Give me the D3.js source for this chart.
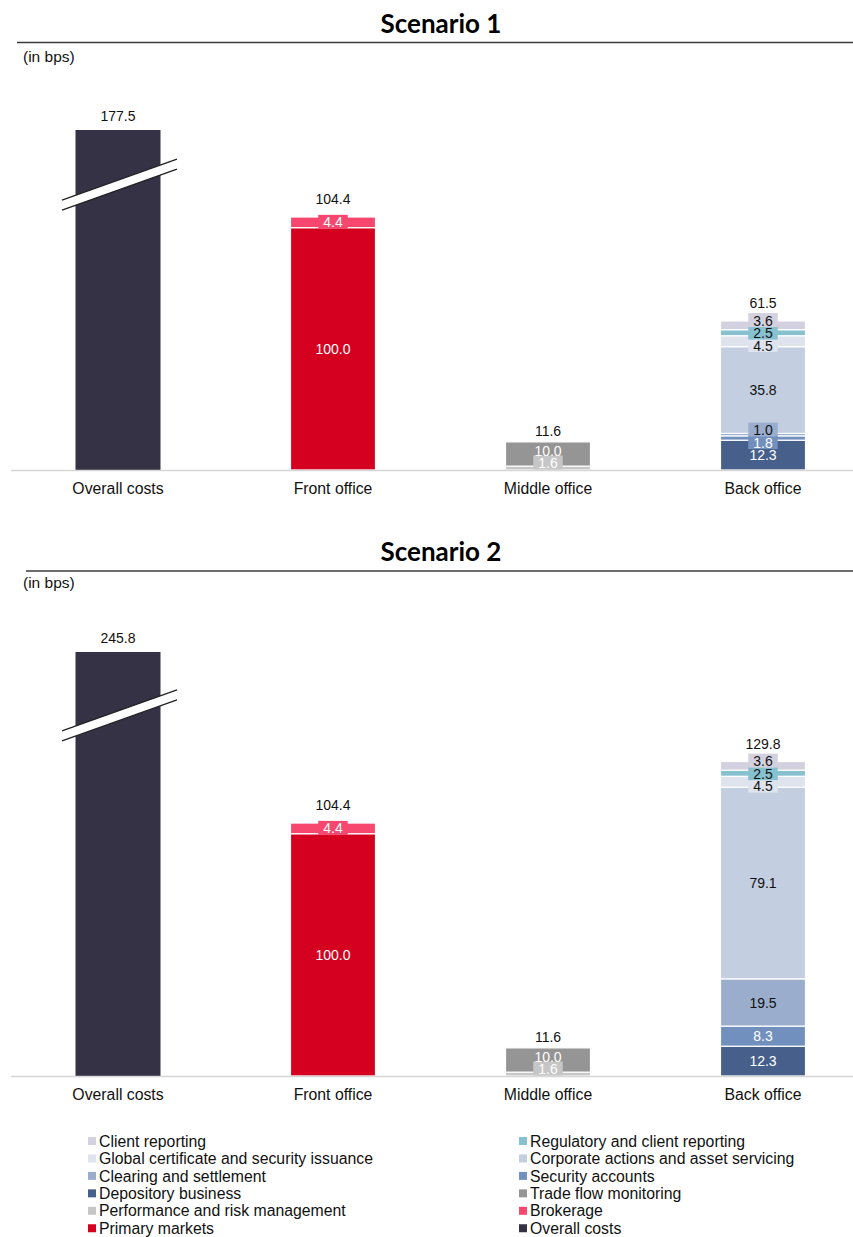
<!DOCTYPE html>
<html>
<head>
<meta charset="utf-8">
<script src="https://cdn.jsdelivr.net/npm/d3@7"></script>
<style>
  html, body { margin: 0; padding: 0; background: #fff; }
  svg { display: block; font-family: "Liberation Sans", Arial, sans-serif; }
</style>
</head>
<body>
<svg id="chart" width="853" height="1237"></svg>
<script>
// ---- data (bps) ----
const scenarios = ["Scenario 1", "Scenario 2"];
const categories = ["Overall costs", "Front office", "Middle office", "Back office"];

// one value per scenario
const overallCosts        = [177.5, 245.8];
const primaryMarkets      = [100.0, 100.0];
const brokerage           = [4.4, 4.4];
const performanceRisk     = [1.6, 1.6];
const tradeFlow           = [10.0, 10.0];
const depository          = [12.3, 12.3];
const securityAccounts    = [1.8, 8.3];
const clearingSettlement  = [1.0, 19.5];
const corporateActions    = [35.8, 79.1];
const globalCertificate   = [4.5, 4.5];
const regulatoryReporting = [2.5, 2.5];
const clientReporting     = [3.6, 3.6];

// series in stacking order (bottom to top), with the column each belongs to
const series = [
  { name: "Overall costs", cat: "Overall costs", values: overallCosts, color: "#353246", text: "#fff" },
  { name: "Primary markets", cat: "Front office", values: primaryMarkets, color: "#d5001f", text: "#fff" },
  { name: "Brokerage", cat: "Front office", values: brokerage, color: "#f7476f", text: "#fff" },
  { name: "Performance and risk management", cat: "Middle office", values: performanceRisk, color: "#c6c6c6", text: "#fff" },
  { name: "Trade flow monitoring", cat: "Middle office", values: tradeFlow, color: "#959595", text: "#fff" },
  { name: "Depository business", cat: "Back office", values: depository, color: "#475f8b", text: "#fff" },
  { name: "Security accounts", cat: "Back office", values: securityAccounts, color: "#7290bd", text: "#fff" },
  { name: "Clearing and settlement", cat: "Back office", values: clearingSettlement, color: "#9aadcd", text: "#111" },
  { name: "Corporate actions and asset servicing", cat: "Back office", values: corporateActions, color: "#c4cee1", text: "#111" },
  { name: "Global certificate and security issuance", cat: "Back office", values: globalCertificate, color: "#dee3ee", text: "#111" },
  { name: "Regulatory and client reporting", cat: "Back office", values: regulatoryReporting, color: "#87c1cf", text: "#111" },
  { name: "Client reporting", cat: "Back office", values: clientReporting, color: "#d3d1df", text: "#111" }
];

// legend layout: two columns
const legendLeft = ["Client reporting", "Global certificate and security issuance", "Clearing and settlement",
  "Depository business", "Performance and risk management", "Primary markets"];
const legendRight = ["Regulatory and client reporting", "Corporate actions and asset servicing", "Security accounts",
  "Trade flow monitoring", "Brokerage", "Overall costs"];

// ---- layout per panel ----
const panels = [
  { titleY: 33, ruleY: 42.5, ruleX: 17, unitY: 62, base: 470, top: 130, axisMax: 140.3, breakAt: 117.8 },
  { titleY: 561, ruleY: 571, ruleX: 26, unitY: 588, base: 1076, top: 652, axisMax: 175.0, breakAt: 148.8 }
];

const svg = d3.select("#chart");
const x = d3.scaleBand().domain(categories).range([10.5, 870.5])
  .paddingInner(130 / 215).paddingOuter(65 / 215);
const fmt = d3.format(".1f");
const byName = new Map(series.map(s => [s.name, s]));

panels.forEach((p, si) => {
  const g = svg.append("g");

  // title and rule
  g.append("text").attr("x", 441).attr("y", p.titleY).attr("text-anchor", "middle")
    .style("font-family", "Lato, 'Open Sans', sans-serif").style("font-weight", 700)
    .style("font-size", "26px").attr("fill", "#000").text(scenarios[si]);
  g.append("line").attr("x1", p.ruleX).attr("x2", 853).attr("y1", p.ruleY).attr("y2", p.ruleY)
    .attr("stroke", "#3a3a3a").attr("stroke-width", 1.6);
  g.append("text").attr("x", 23).attr("y", p.unitY).style("font-size", "15.5px").attr("fill", "#111")
    .text("(in bps)");

  const y = d3.scaleLinear().domain([0, p.axisMax]).range([p.base, p.top]);

  // stacked table: one row per category
  const rows = categories.map(c => {
    const r = { cat: c };
    series.forEach(s => { r[s.name] = s.cat === c ? s.values[si] : 0; });
    return r;
  });
  const stacked = d3.stack().keys(series.map(s => s.name))(rows);

  // overall costs bar uses a broken scale above the break point
  const total = overallCosts[si];
  const yBroken = d3.scaleLinear().domain([0, p.breakAt, total])
    .range([y(0), y(p.breakAt), y(p.axisMax)]);

  const segs = [];
  stacked.forEach((layer, li) => {
    const s = series[li];
    layer.forEach((d, ci) => {
      if (d[1] - d[0] <= 0) return;
      const isOverall = s.cat === "Overall costs";
      const sc = isOverall ? yBroken : y;
      segs.push({ s, cat: categories[ci], y0: sc(d[0]), y1: sc(d[1]), v: d[1] - d[0], isOverall });
    });
  });

  const barW = x.bandwidth();
  g.selectAll("rect.seg").data(segs).join("rect").attr("class", "seg")
    .attr("x", d => x(d.cat)).attr("width", barW)
    .attr("y", d => d.y1).attr("height", d => d.y0 - d.y1)
    .attr("fill", d => d.s.color)
    .attr("stroke", "#fff").attr("stroke-width", d => d.isOverall ? 0 : 1.2);

  // axis baseline and category labels
  const axis = d3.axisBottom(x).tickSize(0).tickSizeOuter(0).tickPadding(13);
  const ax = g.append("g").attr("transform", `translate(0,${p.base})`).call(axis);
  ax.select(".domain").attr("stroke", "#d6d6d6").attr("stroke-width", 1.3);
  ax.selectAll(".tick text").style("font-size", "15.8px").style("font-family", "'Liberation Sans', Arial, sans-serif")
    .attr("fill", "#111");

  // break symbol on the overall costs bar
  const cx = x("Overall costs") + barW / 2 + 1.5;
  const yc = y(p.breakAt);
  const half = 57.5, rise = 20.5, gap = 5;
  const band = [
    [cx - half, yc + rise - gap], [cx + half, yc - rise - gap],
    [cx + half, yc - rise + gap], [cx - half, yc + rise + gap]
  ];
  g.append("path").attr("d", d3.line()(band) + "Z").attr("fill", "#fff");
  [-gap, gap].forEach(o => {
    g.append("line").attr("x1", cx - half).attr("y1", yc + rise + o)
      .attr("x2", cx + half).attr("y2", yc - rise + o)
      .attr("stroke", "#222").attr("stroke-width", 1.3);
  });

  // totals above each column
  categories.forEach(c => {
    const colSegs = segs.filter(d => d.cat === c);
    const topY = d3.min(colSegs, d => d.y1);
    const sum = c === "Overall costs" ? total : d3.sum(colSegs, d => d.v);
    const lift = c === "Overall costs" ? 9 : (c === "Middle office" ? 6 : 13);
    g.append("text").attr("x", x(c) + barW / 2).attr("y", topY - lift)
      .attr("text-anchor", "middle").style("font-size", "14px").attr("fill", "#111")
      .text(fmt(sum));
  });

  // segment labels, spread apart when segments are thin
  const minGap = 12.5, boxH = 14;
  categories.filter(c => c !== "Overall costs").forEach(c => {
    const labs = segs.filter(d => d.cat === c)
      .map(d => ({ ...d, ly: (d.y0 + d.y1) / 2 }));
    for (let it = 0; it < 60; it++) {
      for (let i = 0; i < labs.length - 1; i++) {
        const lo = labs[i], hi = labs[i + 1];
        const dgap = lo.ly - hi.ly;
        if (dgap < minGap) {
          const push = (minGap - dgap) / 2;
          lo.ly += push; hi.ly -= push;
        }
      }
      labs.forEach(l => { l.ly = Math.min(l.ly, p.base - boxH / 2); });
    }
    const lg = g.append("g");
    labs.forEach(l => {
      const h = l.y0 - l.y1;
      const t = lg.append("text").attr("x", x(c) + barW / 2).attr("y", l.ly)
        .attr("dy", "0.36em").attr("text-anchor", "middle")
        .style("font-size", "14px").attr("fill", l.s.text).text(fmt(l.v));
      if (h < 12) {
        const w = t.node().getComputedTextLength() + 10;
        lg.insert("rect", "text").attr("x", x(c) + barW / 2 - w / 2).attr("y", l.ly - boxH / 2 - 0.5)
          .attr("width", w).attr("height", boxH).attr("fill", l.s.color);
      }
    });
  });
});

// legend
const legendRows = 17.45, legendY0 = 1141;
[[legendLeft, 88], [legendRight, 519]].forEach(([names, lx]) => {
  const lg = svg.append("g");
  names.forEach((n, i) => {
    const s = byName.get(n);
    const yy = legendY0 + i * legendRows;
    lg.append("rect").attr("x", lx).attr("y", yy - 4).attr("width", 8).attr("height", 8).attr("fill", s.color);
    lg.append("text").attr("x", lx + 11).attr("y", yy).attr("dy", "0.36em")
      .style("font-size", "15.8px").attr("fill", "#111").text(n);
  });
});
</script>
</body>
</html>
